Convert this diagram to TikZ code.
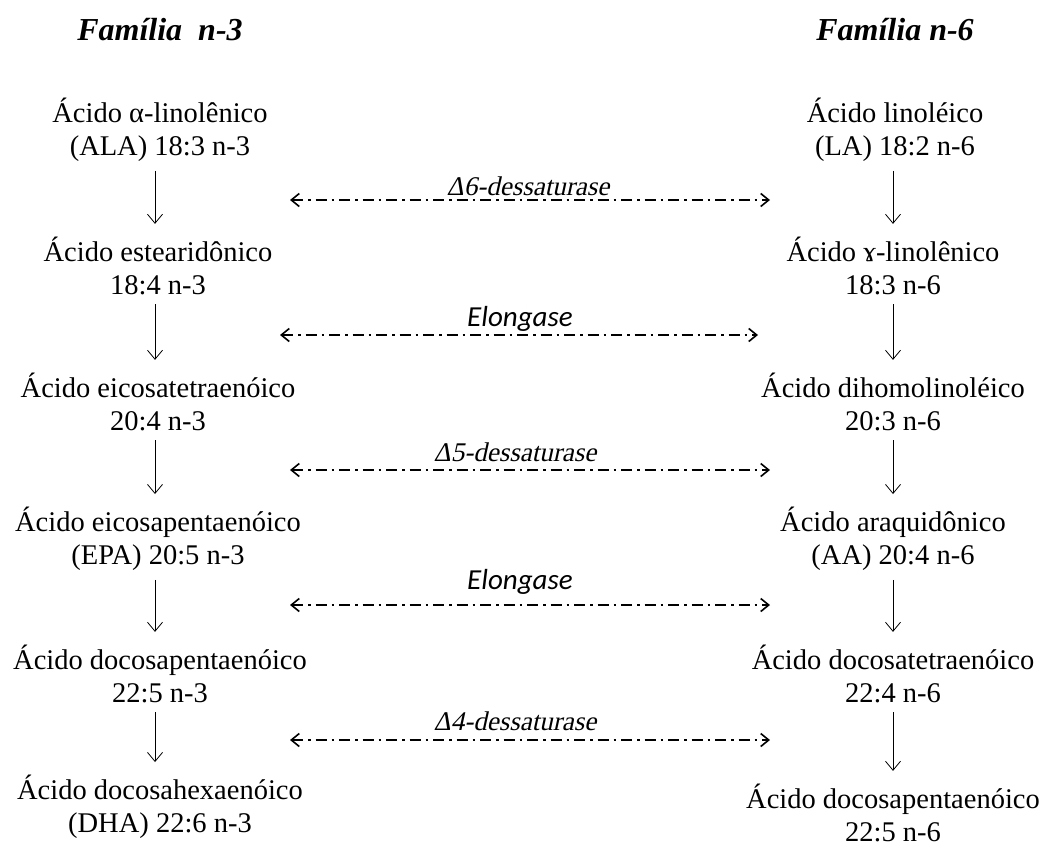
\documentclass[tikz,border=0pt]{standalone}
\usepackage{fontspec}
\setmainfont{Liberation Serif}
\newfontfamily\calibri{Carlito}
\newfontfamily\serifit[FakeSlant=0.22]{Liberation Serif}
\usetikzlibrary{arrows.meta}

\tikzset{
  acid/.style={align=center,inner sep=1pt,font=\fontsize{28.5}{33}\selectfont},
  titulo/.style={font=\fontsize{32}{36}\selectfont\bfseries\itshape},
  enzima/.style={font=\fontsize{27}{30}\selectfont\serifit},
  enzimasf/.style={font=\fontsize{29}{32}\selectfont\calibri\itshape},
  passo/.style={-{Straight Barb[length=9pt,width=15pt]},line width=0.8pt,shorten <=8pt,shorten >=12pt},
  via/.style={{Straight Barb[length=8pt,width=13pt]}-{Straight Barb[length=8pt,width=13pt]},
    line width=1.6pt,dash pattern=on 11pt off 5pt on 2.5pt off 5pt}
}

\begin{document}
\begin{tikzpicture}[x=1pt,y=-1pt]
            \useasboundingbox (0,0) rectangle (1046,844);
            \node[titulo] (t3) at (160,30) {Família\ \ n-3};
            \node[titulo] (t6) at (895,30) {Família n-6};
            % familia n-3
            \node[acid] (a1) at (160,130) {Ácido α-linolênico\\(ALA) 18:3 n-3};
            \node[acid] (a2) at (158,266) {Ácido estearidônico\\18:4 n-3};
            \node[acid] (a3) at (158,402) {Ácido eicosatetraenóico\\20:4 n-3};
            \node[acid] (a4) at (158,539) {Ácido eicosapentaenóico\\(EPA) 20:5 n-3};
            \node[acid] (a5) at (160,674) {Ácido docosapentaenóico\\22:5 n-3};
            \node[acid] (a6) at (160,807) {Ácido docosahexaenóico\\(DHA) 22:6 n-3};
            % familia n-6
            \node[acid] (b1) at (895,130) {Ácido linoléico\\(LA) 18:2 n-6};
            \node[acid] (b2) at (893,266) {Ácido ɤ-linolênico\\18:3 n-6};
            \node[acid] (b3) at (893,402) {Ácido dihomolinoléico\\20:3 n-6};
            \node[acid] (b4) at (893,539) {Ácido araquidônico\\(AA) 20:4 n-6};
            \node[acid] (b5) at (893,674) {Ácido docosatetraenóico\\22:4 n-6};
            \node[acid] (b6) at (893,813) {Ácido docosapentaenóico\\22:5 n-6};
            \foreach \i/\j in {1/2,2/3,3/4,4/5,5/6}{
              \draw[passo] (a\i.south -| 155,0) -- (a\j.north -| 155,0);
              \draw[passo] (b\i.south -| 893,0) -- (b\j.north -| 893,0);
            }
            % enzimas
            \coordinate (e1l) at (290,200); \coordinate (e1r) at (770,200);
            \coordinate (e2l) at (280,335); \coordinate (e2r) at (758,335);
            \coordinate (e3l) at (290,470); \coordinate (e3r) at (770,470);
            \coordinate (e4l) at (290,605); \coordinate (e4r) at (770,605);
            \coordinate (e5l) at (290,740); \coordinate (e5r) at (770,740);
            \draw[via] (e1l) -- (e1r);
            \draw[via] (e2l) -- (e2r);
            \draw[via] (e3l) -- (e3r);
            \draw[via] (e4l) -- (e4r);
            \draw[via] (e5l) -- (e5r);
            \node[enzima] (d6) at (528,186) {Δ6-dessaturase};
            \node[enzimasf] (el1) at (520,319) {Elongase};
            \node[enzima] (d5) at (515,452) {Δ5-dessaturase};
            \node[enzimasf] (el2) at (520,582) {Elongase};
            \node[enzima] (d4) at (515,721) {Δ4-dessaturase};
        \end{tikzpicture}
\end{document}
